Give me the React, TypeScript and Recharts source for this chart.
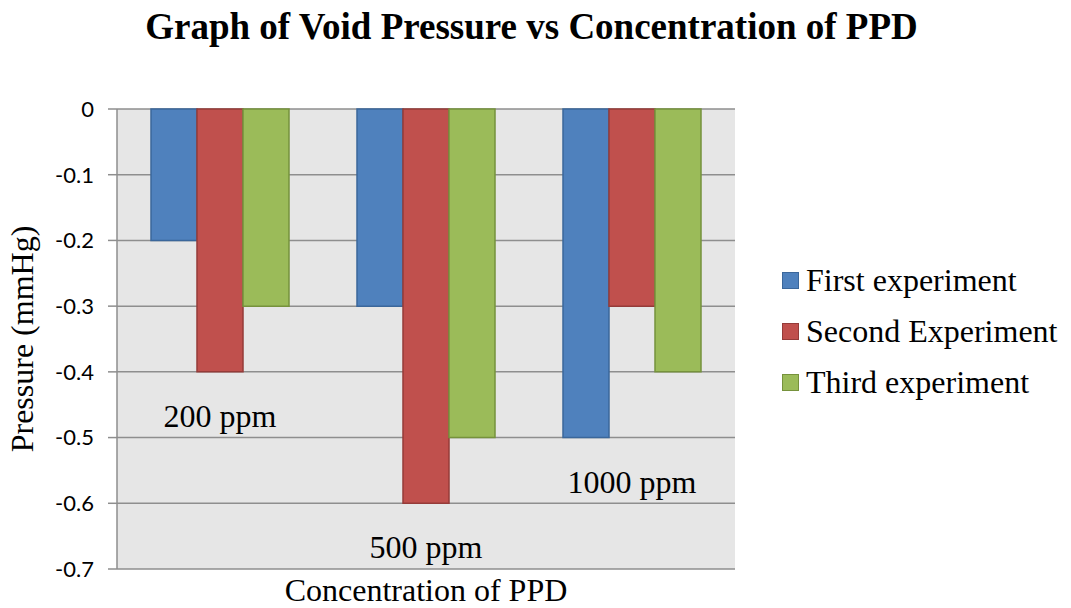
import { BarChart, Bar, XAxis, YAxis, CartesianGrid, Legend, ReferenceDot, Label } from 'recharts';

const categories = ['200 ppm', '500 ppm', '1000 ppm'];
const firstExperiment = [-0.2, -0.3, -0.5];
const secondExperiment = [-0.4, -0.6, -0.3];
const thirdExperiment = [-0.3, -0.5, -0.4];
const yTicks = [0, -0.1, -0.2, -0.3, -0.4, -0.5, -0.6, -0.7];

const series = [
  { key: 'first', name: 'First experiment', fill: '#4F81BD', stroke: '#3B679B' },
  { key: 'second', name: 'Second Experiment', fill: '#C0504D', stroke: '#953B39' },
  { key: 'third', name: 'Third experiment', fill: '#9BBB59', stroke: '#76923C' },
];

const data = categories.map((name, i) => ({
  name,
  first: firstExperiment[i],
  second: secondExperiment[i],
  third: thirdExperiment[i],
  low: Math.min(firstExperiment[i], secondExperiment[i], thirdExperiment[i]),
}));

const serif = '"Liberation Serif", "Times New Roman", serif';

function LegendBox() {
  return (
    <div style={{ fontFamily: serif, fontSize: 32, color: '#000' }}>
      {series.map((s) => (
        <div key={s.key} style={{ display: 'flex', alignItems: 'center', height: 51 }}>
          <span
            style={{
              display: 'inline-block',
              width: 15,
              height: 15,
              background: s.fill,
              border: `1px solid ${s.stroke}`,
              marginRight: 7,
            }}
          />
          <span style={{ whiteSpace: 'nowrap' }}>{s.name}</span>
        </div>
      ))}
    </div>
  );
}

export default function App() {
  return (
    <div style={{ position: 'relative', width: 1071, height: 608, background: '#fff' }}>
      <style>{'body{margin:0}'}</style>
      <div
        style={{
          position: 'absolute',
          top: 4,
          left: 0,
          width: 1063,
          textAlign: 'center',
          fontFamily: serif,
          fontWeight: 'bold',
          fontSize: 37,
          lineHeight: '46px',
          color: '#000',
        }}
      >
        Graph of Void Pressure vs Concentration of PPD
      </div>
      <BarChart
        width={1071}
        height={608}
        data={data}
        margin={{ top: 109, right: 336, bottom: 0, left: 0 }}
        barCategoryGap={34}
        barGap={0}
      >
        <CartesianGrid vertical={false} fill="#E6E6E6" stroke="#8E8E8E" strokeWidth={1.5} />
        <XAxis
          dataKey="name"
          tick={false}
          tickLine={false}
          axisLine={false}
          height={39}
        >
          <Label
            content={() => (
              <text x={426} y={601} textAnchor="middle" fontFamily={serif} fontSize={32} fill="#000">
                Concentration of PPD
              </text>
            )}
          />
        </XAxis>
        <YAxis
          width={117}
          domain={[-0.7, 0]}
          ticks={yTicks}
          interval={0}
          tickFormatter={(v: number) => (v === 0 ? '0' : v.toFixed(1))}
          tick={{ fontSize: 22, fill: '#000', fontFamily: 'Lato, sans-serif' }}
          tickSize={9}
          tickMargin={14}
          stroke="#8E8E8E"
          strokeWidth={1.5}
        >
          <Label
            content={() => (
              <text
                x={33}
                y={339}
                transform="rotate(-90 33 339)"
                textAnchor="middle"
                fontFamily={serif}
                fontSize={32}
                fill="#000"
              >
                Pressure (mmHg)
              </text>
            )}
          />
        </YAxis>
        <Legend
          layout="vertical"
          align="center"
          verticalAlign="middle"
          content={() => <LegendBox />}
          wrapperStyle={{ left: 782, top: 255, width: 290 }}
        />
        {series.map((s) => (
          <Bar
            key={s.key}
            dataKey={s.key}
            name={s.name}
            fill={s.fill}
            stroke={s.stroke}
            strokeWidth={1.5}
            isAnimationActive={false}
          />
        ))}
        {data.map((d) => (
          <ReferenceDot
            key={d.name}
            x={d.name}
            y={d.low}
            r={0}
            fill="none"
            stroke="none"
            ifOverflow="visible"
            label={(props: any) => {
              const vb = props.viewBox || {};
              const cx = (vb.x ?? 0) + (vb.width ?? 0) / 2;
              const cy = (vb.y ?? 0) + (vb.height ?? 0) / 2;
              return (
                <text x={cx} y={cy + 55} textAnchor="middle" fontFamily={serif} fontSize={32} fill="#000">
                  {d.name}
                </text>
              );
            }}
          />
        ))}
      </BarChart>
    </div>
  );
}
